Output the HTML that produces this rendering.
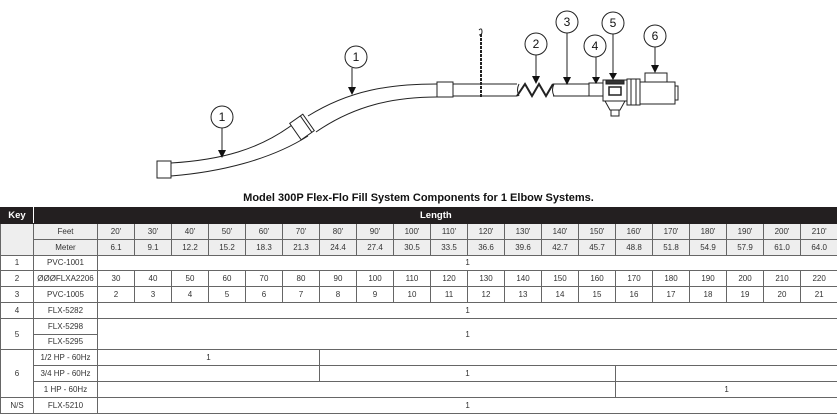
<!DOCTYPE html>
<html><head><meta charset="utf-8"><style>
body{margin:0;width:837px;height:417px;background:#fff;overflow:hidden;font-family:"Liberation Sans",sans-serif;position:relative}
svg{position:absolute;left:0;top:0}
.t{position:absolute;left:0;top:192px;width:837px;text-align:center;font-weight:bold;font-size:11px;color:#111}
table{position:absolute;left:0;top:207px;border-collapse:collapse;table-layout:fixed;width:837px;font-size:8px;color:#333}
td{border:1.5px solid #666;text-align:center;padding:0;height:14.8px;overflow:hidden;white-space:nowrap}
tr.h td{background:#231f20;color:#fff;font-weight:bold;font-size:9.5px;height:15px;border-color:#231f20 #fff #231f20 #231f20}
.g{background:#eee}
</style></head><body>
<svg width="837" height="190" viewBox="0 0 837 190" fill="none" stroke="#222" stroke-width="1">
<rect x="157" y="161" width="14" height="17" fill="#fff"/>
<path d="M171 163 C 220 160, 260 150, 296 122"/>
<path d="M171 176 C 220 172, 270 160, 308 136"/>
<path d="M308 116 C 350 90, 390 84, 437 84"/>
<path d="M316 132 C 355 105, 395 97, 437 97"/>
<g transform="translate(302,127) rotate(-35)"><rect x="-8" y="-10" width="16" height="20" fill="#fff"/><line x1="5" y1="-10" x2="5" y2="10"/></g>
<rect x="437" y="82" width="16" height="15" fill="#fff"/>
<path d="M453 84 H517 M453 96 H517"/>
<path d="M519 84 q-3 6 0 12"/>
<path d="M481 34 V97" stroke-width="2" stroke-dasharray="3 1"/>
<path d="M479 30 q3 -3 3 2 q0 3 -3 3" />
<path d="M517 96 L525 84 L532 96 L539 84 L546 96 L553 84" stroke-width="2"/>
<path d="M553 84 H589 M553 96 H589"/>
<path d="M554 84 q-3 6 0 12"/>
<rect x="589" y="83" width="14" height="13" fill="#fff"/>
<rect x="603" y="80" width="24" height="21" fill="#fff"/>
<rect x="606" y="80" width="18" height="4" fill="#333"/>
<rect x="609" y="87" width="12" height="8" fill="#fff" stroke-width="1.5"/>
<path d="M605 101 L625 101 L620 110 L610 110 Z" fill="#fff"/>
<rect x="611" y="110" width="8" height="6" fill="#fff"/>
<rect x="627" y="79" width="13" height="26" fill="#fff"/>
<path d="M631 79 V105 M636 79 V105"/>
<rect x="640" y="82" width="35" height="22" fill="#fff"/>
<rect x="645" y="73" width="22" height="9" fill="#fff"/>
<rect x="675" y="86" width="3" height="14" fill="#fff"/>
<g fill="#fff">
<circle cx="222" cy="117" r="11"/><circle cx="356" cy="57" r="11"/><circle cx="536" cy="44" r="11"/>
<circle cx="567" cy="22" r="11"/><circle cx="595" cy="46" r="11"/><circle cx="613" cy="23" r="11"/><circle cx="655" cy="36" r="11"/>
</g>
<g stroke="#222">
<path d="M222 128 V151 M352 68 V88 M536 55 V77 M567 33 V78 M596 57 V78 M613 34 V74 M655 47 V66"/>
</g>
<g fill="#111" stroke="none">
<path d="M218 150 h8 l-4 8z M348 87 h8 l-4 8z M532 76 h8 l-4 8z M563 77 h8 l-4 8z M592 77 h8 l-4 7z M609 73 h8 l-4 7z M651 65 h8 l-4 8z"/>
</g>
<g fill="#111" stroke="none" font-family="Liberation Sans" font-size="12" text-anchor="middle">
<text x="222" y="121">1</text><text x="356" y="61">1</text><text x="536" y="48">2</text><text x="567" y="26">3</text><text x="595" y="50">4</text><text x="613" y="27">5</text><text x="655" y="40">6</text>
</g>
</svg>
<div class="t">Model 300P Flex-Flo Fill System Components for 1 Elbow Systems.</div>
<table>
<colgroup><col style="width:33px"><col style="width:64px"><col span="20" style="width:37px"></colgroup>
<tr class="h"><td>Key</td><td colspan="21" style="text-align:left;padding-left:386px">Length</td></tr>
<tr><td class="g" rowspan="2"></td><td class="g">Feet</td><td class="g">20'</td><td class="g">30'</td><td class="g">40'</td><td class="g">50'</td><td class="g">60'</td><td class="g">70'</td><td class="g">80'</td><td class="g">90'</td><td class="g">100'</td><td class="g">110'</td><td class="g">120'</td><td class="g">130'</td><td class="g">140'</td><td class="g">150'</td><td class="g">160'</td><td class="g">170'</td><td class="g">180'</td><td class="g">190'</td><td class="g">200'</td><td class="g">210'</td></tr>
<tr><td class="g">Meter</td><td class="g">6.1</td><td class="g">9.1</td><td class="g">12.2</td><td class="g">15.2</td><td class="g">18.3</td><td class="g">21.3</td><td class="g">24.4</td><td class="g">27.4</td><td class="g">30.5</td><td class="g">33.5</td><td class="g">36.6</td><td class="g">39.6</td><td class="g">42.7</td><td class="g">45.7</td><td class="g">48.8</td><td class="g">51.8</td><td class="g">54.9</td><td class="g">57.9</td><td class="g">61.0</td><td class="g">64.0</td></tr>
<tr><td>1</td><td>PVC-1001</td><td colspan="20">1</td></tr>
<tr><td>2</td><td>ØØØFLXA2206</td><td>30</td><td>40</td><td>50</td><td>60</td><td>70</td><td>80</td><td>90</td><td>100</td><td>110</td><td>120</td><td>130</td><td>140</td><td>150</td><td>160</td><td>170</td><td>180</td><td>190</td><td>200</td><td>210</td><td>220</td></tr>
<tr><td>3</td><td>PVC-1005</td><td>2</td><td>3</td><td>4</td><td>5</td><td>6</td><td>7</td><td>8</td><td>9</td><td>10</td><td>11</td><td>12</td><td>13</td><td>14</td><td>15</td><td>16</td><td>17</td><td>18</td><td>19</td><td>20</td><td>21</td></tr>
<tr><td>4</td><td>FLX-5282</td><td colspan="20">1</td></tr>
<tr><td rowspan="2">5</td><td>FLX-5298</td><td colspan="20" rowspan="2">1</td></tr>
<tr><td>FLX-5295</td></tr>
<tr><td rowspan="3">6</td><td>1/2 HP - 60Hz</td><td colspan="6">1</td><td colspan="14"></td></tr>
<tr><td>3/4 HP - 60Hz</td><td colspan="6"></td><td colspan="8">1</td><td colspan="6"></td></tr>
<tr><td>1 HP - 60Hz</td><td colspan="14"></td><td colspan="6">1</td></tr>
<tr><td>N/S</td><td>FLX-5210</td><td colspan="20">1</td></tr>
</table>
</body></html>
